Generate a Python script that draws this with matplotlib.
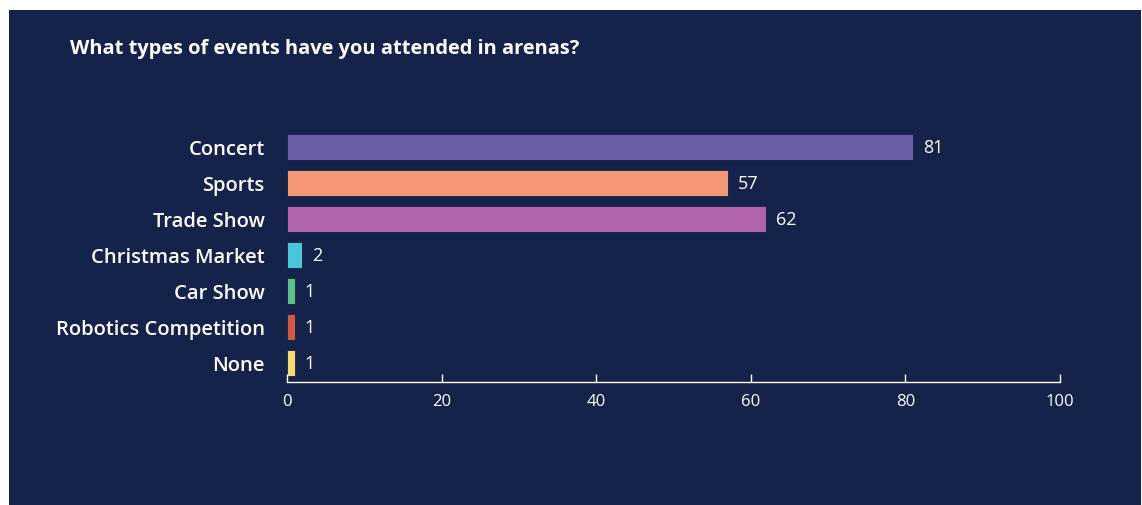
import matplotlib.pyplot as plt
from matplotlib.patches import Rectangle

# data
categories = ['Concert', 'Sports', 'Trade Show', 'Christmas Market',
              'Car Show', 'Robotics Competition', 'None']
counts = [81, 57, 62, 2, 1, 1, 1]
bar_colors = ['#6C5FA7', '#F59877', '#AF63AA', '#4AC6D8',
              '#5DBE8A', '#D25A48', '#F5D774']
xticks = [0, 20, 40, 60, 80, 100]

navy = '#15224A'
W, H = 1142, 506

fig = plt.figure(figsize=(W / 100, H / 100), dpi=100, facecolor='white')
# dark panel behind everything
fig.patches.append(Rectangle((9 / W, 0), (1141 - 9) / W, (506 - 11) / H,
                             transform=fig.transFigure, facecolor=navy,
                             edgecolor='none', zorder=-5))

fig.text(70 / W, 1 - 49 / H, 'What types of events have you attended in arenas?',
         color='white', fontsize=14.4, fontweight='bold', family='Open Sans',
         ha='left', va='center')

# axes: x=0 at px 287, x=100 at px 1060; axis line at px 382.7
ax_left, ax_right = 287, 1060
ax_top, ax_bot = 130, 382.7
ax = fig.add_axes([ax_left / W, 1 - ax_bot / H, (ax_right - ax_left) / W,
                   (ax_bot - ax_top) / H])
ax.set_zorder(2)
ax.set_facecolor('none')

y = list(range(len(categories)))
bars = ax.barh(y, counts, height=0.72, color=bar_colors,
               edgecolor=navy, linewidth=0.6)
ax.set_xlim(0, 100)
ax.set_ylim(6.52, 6.52 - (ax_bot - ax_top) / 36)

for yi, v in zip(y, counts):
    ax.annotate(str(v), (v, yi), xytext=(7, 0), textcoords='offset points',
                color='white', fontsize=13, family='Open Sans',
                ha='left', va='center')

ax.set_yticks(y)
ax.set_yticklabels(categories, color='white', fontsize=14.5,
                   family='Open Sans', fontweight='semibold')
ax.tick_params(axis='y', length=0, pad=16)

ax.set_xticks(xticks)
ax.set_xticklabels([str(t) for t in xticks], color='white', fontsize=12,
                   family='Open Sans')
ax.tick_params(axis='x', direction='in', length=6, width=1, color='white', pad=8)

for s in ['top', 'right', 'left']:
    ax.spines[s].set_visible(False)
ax.spines['bottom'].set_color('white')
ax.spines['bottom'].set_linewidth(1)

fig.savefig('out.png', dpi=100, facecolor='white')
